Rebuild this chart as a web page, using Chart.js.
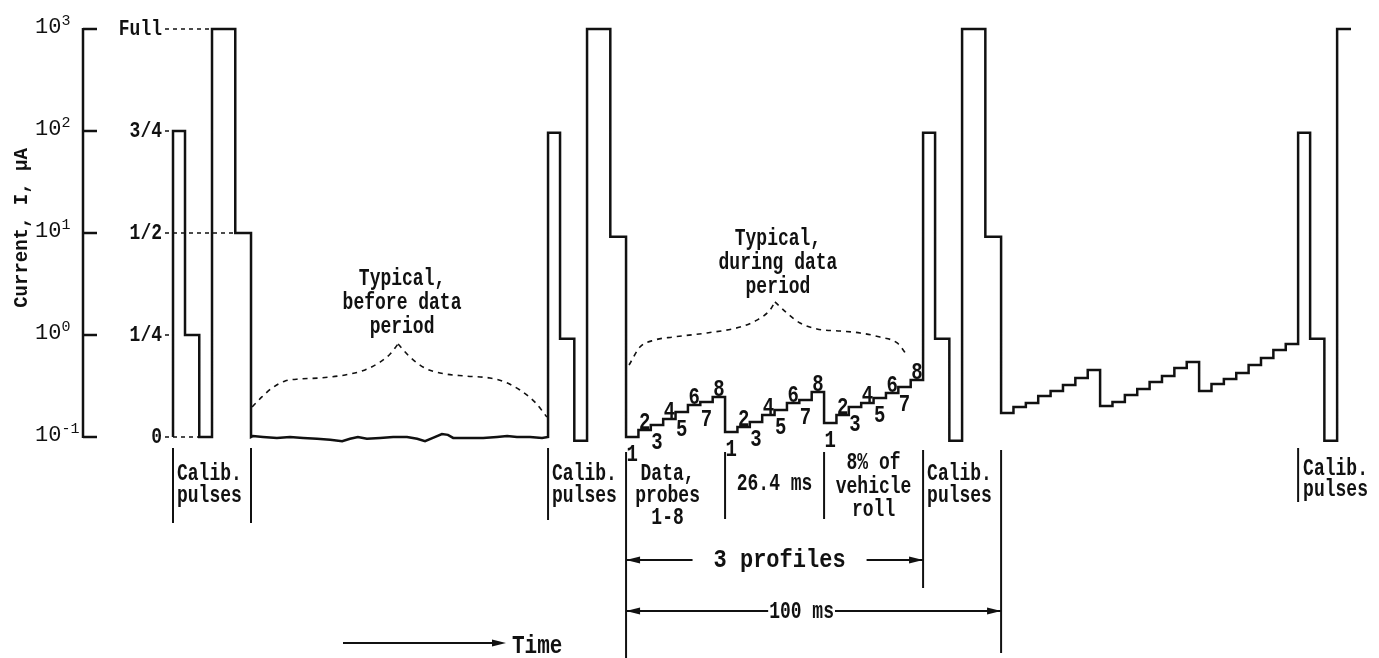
<!DOCTYPE html>
<html>
<head>
<meta charset="utf-8">
<script src="https://cdn.jsdelivr.net/npm/chart.js@4.4.1/dist/chart.umd.min.js"></script>
<style>
  html, body { margin: 0; padding: 0; background: #fff; }
  #wrap { width: 1379px; height: 658px; position: relative; }
</style>
</head>
<body>
<div id="wrap"><canvas id="record"></canvas></div>
<script>
// Electrometer output: calibration pulses followed by probe data, log current vs time.

// Log axis decades and the calibration-range names drawn beside them
const decadeValues = [0.1, 1, 10, 100, 1000];
const decadeExponents = ['-1', '0', '1', '2', '3'];
const rangeLabels = ['0', '1/4', '1/2', '3/4', 'Full'];
const rangeLeaderSegment = [2, 0, 4, 0, 3];   // calib segment each leader runs to

// Calibration sequence: 3/4, 1/4, 0, full, 1/2 of range (µA)
const calibFirst = [100, 1, 0.1, 1000, 10];
const calibLater = [96, 0.92, 0.092, 1000, 9.2];
const calibDurations = [3.2, 3.8, 3.4, 6.2, 4.2];   // ms

const cyclePeriod = 100;       // ms
const profileDuration = 26.4;  // ms, probes 1-8
const probesPerProfile = 8;
const recordEnd = 314.1;       // ms, record stops inside the full-scale pulse

// Quiet baseline before the data period (ms, µA)
const quietTimes = [20.8, 21.3, 24.0, 27.7, 31.2, 34.7, 38.4, 41.9, 45.1, 47.2,
                    49.3, 51.7, 55.2, 58.7, 62.4, 65.1, 67.2, 69.3, 71.7, 73.3,
                    74.7, 78.4, 82.7, 86.4, 89.1, 91.7, 95.2, 98.4, 100.0];
const quietCurrent = [0.100, 0.102, 0.100, 0.098, 0.100, 0.098, 0.096, 0.094, 0.091, 0.096,
                      0.100, 0.096, 0.098, 0.100, 0.100, 0.096, 0.091, 0.098, 0.107, 0.105,
                      0.098, 0.098, 0.098, 0.100, 0.102, 0.100, 0.100, 0.098, 0.100];

// Probe currents, three profiles per data period (µA)
const cycle1Profiles = [
  [0.100, 0.117, 0.131, 0.150, 0.176, 0.206, 0.220, 0.247],
  [0.112, 0.125, 0.140, 0.164, 0.184, 0.215, 0.230, 0.276],
  [0.137, 0.164, 0.197, 0.215, 0.241, 0.270, 0.309, 0.362]
];
const cycle2Profiles = [
  [0.172, 0.197, 0.215, 0.252, 0.282, 0.323, 0.379, 0.453],
  [0.201, 0.220, 0.258, 0.296, 0.346, 0.396, 0.474, 0.543],
  [0.282, 0.331, 0.371, 0.424, 0.508, 0.596, 0.713, 0.817]
];

// "Typical" envelopes, split at the cusp
const beforeRiseTimes = [21.1, 23.7, 26.4, 29.9, 33.9, 39.2, 45.9, 51.2, 55.2, 57.9, 60.0];
const beforeRiseCurrent = [0.197, 0.247, 0.302, 0.354, 0.371, 0.379, 0.406, 0.454, 0.543, 0.651, 0.816];
const beforeFallTimes = [60.0, 63.2, 67.2, 71.2, 77.9, 84.5, 88.5, 92.5, 96.5, 99.7];
const beforeFallCurrent = [0.816, 0.608, 0.474, 0.424, 0.396, 0.379, 0.346, 0.289, 0.220, 0.157];
const duringRiseTimes = [121.6, 124.5, 128.5, 133.3, 142.4, 151.2, 155.7, 159.2, 160.5];
const duringRiseCurrent = [0.508, 0.762, 0.894, 0.955, 1.047, 1.197, 1.40, 1.76, 2.11];
const duringFallTimes = [160.5, 163.7, 167.2, 171.7, 177.9, 183.2, 188.5, 193.1, 195.7];
const duringFallCurrent = [2.11, 1.64, 1.31, 1.145, 1.094, 1.047, 0.955, 0.835, 0.637];

// ---------------------------------------------------------------------------
const calibTotal = calibDurations.reduce((a, b) => a + b, 0);
const probeStep = profileDuration / probesPerProfile;
const dataStart = c => c * cyclePeriod + calibTotal;
const calibOffset = i => calibDurations.slice(0, i).reduce((a, b) => a + b, 0);

function addLevel(pts, t0, t1, v) {
  pts.push({ x: t0, y: v }, { x: t1, y: v });
}
function addCalib(pts, start, levels, stopAt) {
  let t = start;
  for (let i = 0; i < levels.length; i++) {
    let t1 = t + calibDurations[i];
    if (stopAt !== undefined && t1 >= stopAt) { addLevel(pts, t, stopAt, levels[i]); return; }
    addLevel(pts, t, t1, levels[i]);
    t = t1;
  }
}
function addProfiles(pts, start, profiles) {
  profiles.forEach((levels, p) => {
    levels.forEach((v, k) => {
      const t0 = start + p * profileDuration + k * probeStep;
      addLevel(pts, t0, t0 + probeStep, v);
    });
  });
}

const trace = [{ x: 0, y: calibFirst[2] }];
addCalib(trace, 0, calibFirst);
quietTimes.forEach((t, i) => trace.push({ x: t, y: quietCurrent[i] }));
addCalib(trace, cyclePeriod, calibLater);
addProfiles(trace, dataStart(1), cycle1Profiles);
addCalib(trace, 2 * cyclePeriod, calibLater);
addProfiles(trace, dataStart(2), cycle2Profiles);
addCalib(trace, 3 * cyclePeriod, calibLater, recordEnd);

const pairs = (ts, vs) => ts.map((t, i) => ({ x: t, y: vs[i] }));

const ink = '#111';
const mono = '"Liberation Mono", "DejaVu Sans Mono", monospace';

function envelope(points) {
  return {
    data: points, borderColor: ink, borderWidth: 1.6, borderDash: [5, 5],
    pointRadius: 0, cubicInterpolationMode: 'monotone', clip: false
  };
}

function label(ctx, str, x, y, o = {}) {
  const size = o.size || 18, stretch = o.stretch || 1.3;
  ctx.save();
  ctx.font = `${o.weight || 'bold'} ${size}px ${o.family || mono}`;
  ctx.textAlign = o.align || 'left';
  ctx.textBaseline = o.base || 'alphabetic';
  ctx.translate(x, y);
  if (o.rotate) ctx.rotate(o.rotate);
  ctx.scale(1, stretch);
  ctx.fillText(str, 0, 0);
  ctx.restore();
}
function textWidth(ctx, str, size, weight) {
  ctx.save(); ctx.font = `${weight || 'bold'} ${size}px ${mono}`;
  const w = ctx.measureText(str).width; ctx.restore(); return w;
}
function seg(ctx, x0, y0, x1, y1) {
  ctx.beginPath(); ctx.moveTo(x0, y0); ctx.lineTo(x1, y1); ctx.stroke();
}
function head(ctx, x, y, dir) {
  ctx.beginPath();
  ctx.moveTo(x, y); ctx.lineTo(x - dir * 14, y - 3.5); ctx.lineTo(x - dir * 14, y + 3.5);
  ctx.closePath(); ctx.fill();
}

const annotations = {
  id: 'annotations',
  beforeDraw(chart) {
    const ctx = chart.ctx;
    ctx.save(); ctx.fillStyle = '#fff'; ctx.fillRect(0, 0, chart.width, chart.height); ctx.restore();
  },
  afterDatasetsDraw(chart) {
    const ctx = chart.ctx, xs = chart.scales.x, ys = chart.scales.y;
    const X = t => xs.getPixelForValue(t), Y = v => ys.getPixelForValue(v);
    const axisX = chart.chartArea.left;
    ctx.save();
    ctx.strokeStyle = ink; ctx.fillStyle = ink; ctx.lineCap = 'butt';

    // Current axis with inward ticks
    ctx.lineWidth = 2.5;
    seg(ctx, axisX, Y(decadeValues[decadeValues.length - 1]) - 1, axisX, Y(decadeValues[0]) + 1);
    decadeValues.forEach((v, i) => {
      const y = Y(v);
      seg(ctx, axisX, y, axisX + 14, y);
      label(ctx, '10', axisX - 48, y + 4, { size: 22, stretch: 1.0, weight: 'normal' });
      label(ctx, decadeExponents[i], axisX - 48 + textWidth(ctx, '10', 22, 'normal'), y - 4,
            { size: 15, stretch: 1.0, weight: 'normal' });
    });
    label(ctx, 'Current, I, \u00b5A', 22, 228,
          { size: 19, stretch: 1.05, align: 'center', base: 'middle', rotate: -Math.PI / 2 });

    // Range names with dashed leaders to the first calibration pulses
    rangeLabels.forEach((txt, i) => {
      const y = Y(decadeValues[i]);
      label(ctx, txt, 162, y + 1, { size: 18, stretch: 1.2, align: 'right', base: 'middle' });
      ctx.lineWidth = 1.5; ctx.setLineDash([4, 4]);
      seg(ctx, 165, y, X(calibOffset(rangeLeaderSegment[i])), y);
      ctx.setLineDash([]);
    });

    // Envelope captions
    const capBefore = X(beforeRiseTimes[beforeRiseTimes.length - 1]) + 4;
    ['Typical,', 'before data', 'period'].forEach((s, i) =>
      label(ctx, s, capBefore, 285 + i * 24, { align: 'center' }));
    const capDuring = X(duringRiseTimes[duringRiseTimes.length - 1]) + 3;
    ['Typical,', 'during data', 'period'].forEach((s, i) =>
      label(ctx, s, capDuring, 245 + i * 24, { align: 'center' }));

    // Probe numbers on the first set of profiles
    cycle1Profiles.forEach((levels, p) => {
      levels.forEach((v, k) => {
        const x = X(dataStart(1) + p * profileDuration + (k + 0.5) * probeStep);
        const n = String(k + 1);
        if ((k + 1) % 2 === 0) label(ctx, n, x, Y(v) - 1, { size: 19, align: 'center' });
        else label(ctx, n, x, Y(v) + 5, { size: 19, align: 'center', base: 'top' });
      });
    });

    // Bracket lines below the record
    ctx.lineWidth = 2;
    const d1 = dataStart(1), d2 = dataStart(2);
    seg(ctx, X(0), 448, X(0), 523);
    seg(ctx, X(dataStart(0)), 448, X(dataStart(0)), 523);
    seg(ctx, X(cyclePeriod), 448, X(cyclePeriod), 520);
    seg(ctx, X(d1), 452, X(d1), 658);
    seg(ctx, X(d1 + profileDuration), 452, X(d1 + profileDuration), 519);
    seg(ctx, X(d1 + 2 * profileDuration), 452, X(d1 + 2 * profileDuration), 519);
    seg(ctx, X(2 * cyclePeriod), 450, X(2 * cyclePeriod), 588);
    seg(ctx, X(d2), 450, X(d2), 653);
    seg(ctx, X(3 * cyclePeriod), 448, X(3 * cyclePeriod), 502);

    [0, 1, 2].forEach(c => {
      label(ctx, 'Calib.', X(c * cyclePeriod) + 4, 480);
      label(ctx, 'pulses', X(c * cyclePeriod) + 4, 502);
    });
    label(ctx, 'Calib.', X(3 * cyclePeriod) + 5, 475);
    label(ctx, 'pulses', X(3 * cyclePeriod) + 5, 496);

    const mid = k => (X(d1 + k * profileDuration) + X(d1 + (k + 1) * profileDuration)) / 2;
    ['Data,', 'probes', '1-8'].forEach((s, i) => label(ctx, s, mid(0) - 8, 480 + i * 22, { align: 'center' }));
    label(ctx, `${profileDuration} ms`, mid(1), 490, { align: 'center' });
    ['8% of', 'vehicle', 'roll'].forEach((s, i) => label(ctx, s, mid(2), 469 + i * 23.5, { align: 'center' }));

    // "3 profiles" span
    let y = 560, xa = X(d1), xb = X(2 * cyclePeriod);
    let cx = (xa + xb) / 2 + 5, w = textWidth(ctx, '3 profiles', 22);
    label(ctx, '3 profiles', cx, y, { size: 22, stretch: 1.2, align: 'center', base: 'middle' });
    seg(ctx, xa, y, cx - w / 2 - 21, y); head(ctx, xa, y, -1);
    seg(ctx, cx + w / 2 + 21, y, xb, y); head(ctx, xb, y, 1);

    // One cycle span
    y = 611; xb = X(d1 + cyclePeriod);
    const cyc = `${cyclePeriod} ms`;
    cx = (xa + xb) / 2 - 12; w = textWidth(ctx, cyc, 18);
    label(ctx, cyc, cx, y + 1, { size: 18, align: 'center', base: 'middle' });
    seg(ctx, xa, y, cx - w / 2 - 1, y); head(ctx, xa, y, -1);
    seg(ctx, cx + w / 2 + 1, y, xb, y); head(ctx, xb, y, 1);

    // Time direction
    seg(ctx, 343, 643, 500, 643); head(ctx, 506, 643, 1);
    label(ctx, 'Time', 512, 653, { size: 21, stretch: 1.2 });

    ctx.restore();
  }
};

new Chart(document.getElementById('record'), {
  type: 'line',
  data: {
    datasets: [
      {
        data: trace, borderColor: ink, borderWidth: 2.5, pointRadius: 0,
        tension: 0, borderJoinStyle: 'miter', clip: false
      },
      envelope(pairs(beforeRiseTimes, beforeRiseCurrent)),
      envelope(pairs(beforeFallTimes, beforeFallCurrent)),
      envelope(pairs(duringRiseTimes, duringRiseCurrent)),
      envelope(pairs(duringFallTimes, duringFallCurrent))
    ]
  },
  options: {
    responsive: true,
    maintainAspectRatio: false,
    animation: false,
    layout: { padding: { left: 83, right: 19, top: 29, bottom: 221 } },
    scales: {
      x: { type: 'linear', min: -24, max: 316.5, display: false },
      y: { type: 'logarithmic', min: 0.1, max: 1000, display: false }
    },
    plugins: { legend: { display: false }, tooltip: { enabled: false } },
    events: []
  },
  plugins: [annotations]
});
</script>
</body>
</html>
